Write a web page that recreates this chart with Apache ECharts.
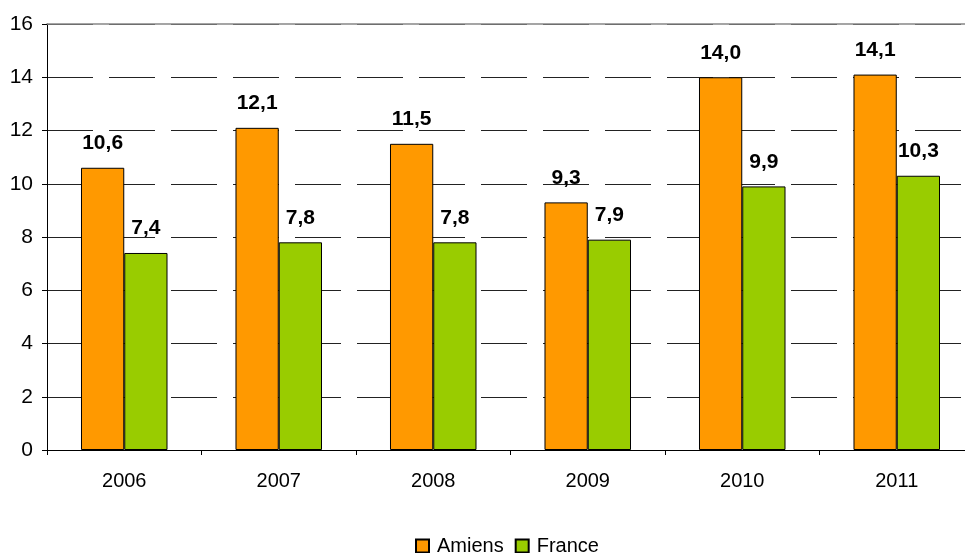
<!DOCTYPE html>
<html>
<head>
<meta charset="utf-8">
<script src="https://cdn.jsdelivr.net/npm/echarts@6/dist/echarts.min.js"></script>
<style>
  html, body { margin: 0; padding: 0; background: #fff; }
  #main { width: 965px; height: 553px; }
</style>
</head>
<body>
<div id="main"></div>
<script>
// données
var annees = ['2006', '2007', '2008', '2009', '2010', '2011'];
var amiens = [10.6, 12.1, 11.5, 9.3, 14.0, 14.1];
var france = [7.4, 7.8, 7.8, 7.9, 9.9, 10.3];

var myChart = echarts.init(document.getElementById('main'));

function etiquette(p) {
	return p.value.toFixed(1).replace('.', ',');
}

var styleEtiquette = {
	show : true,
	position : 'top',
	distance : 14,
	formatter : etiquette,
	fontSize : 21,
	fontWeight : 'bold',
	color : '#000'
};

myChart.setOption({
	animation : false,
	textStyle : { fontFamily : 'Liberation Sans, Arial, sans-serif' },
	grid : {
		left : 47,
		width : 927,
		top : 24,
		bottom : 103,
		outerBoundsMode : 'none',
		containLabel : false
	},
	legend : {
		data : [ 'Amiens', 'France' ],
		top : 531,
		left : 410,
		icon : 'rect',
		itemWidth : 13,
		itemHeight : 13,
		itemGap : 11,
		textStyle : { fontSize : 20, color : '#000', padding : [ 0, 0, 0, 3 ] }
	},
	xAxis : [ {
		type : 'category',
		data : annees,
		axisLine : { lineStyle : { color : '#000', width : 1 } },
		axisTick : { show : true, length : 5, lineStyle : { color : '#000' } },
		axisLabel : { fontSize : 20, color : '#000', margin : 21 }
	}, {
		type : 'category',
		data : annees,
		position : 'top',
		axisLine : { lineStyle : { color : '#888', width : 1.5 } },
		axisTick : { show : false },
		axisLabel : { show : false }
	} ],
	yAxis : {
		type : 'value',
		min : 0,
		max : 16,
		interval : 2,
		axisLine : { show : true, lineStyle : { color : '#000' } },
		axisTick : { show : true, length : 5, lineStyle : { color : '#000' } },
		axisLabel : { fontSize : 21, color : '#000', margin : 14 },
		splitLine : {
			lineStyle : { color : '#222', type : [ 46, 16 ], width : 1 }
		}
	},
	series : [ {
		name : 'Amiens',
		type : 'bar',
		data : amiens,
		barGap : '0%',
		barCategoryGap : '44%',
		itemStyle : { color : '#FF9900', borderColor : '#000', borderWidth : 1 },
		label : styleEtiquette
	}, {
		name : 'France',
		type : 'bar',
		data : france,
		itemStyle : { color : '#99CC00', borderColor : '#000', borderWidth : 1 },
		label : styleEtiquette
	} ]
});
</script>
</body>
</html>
